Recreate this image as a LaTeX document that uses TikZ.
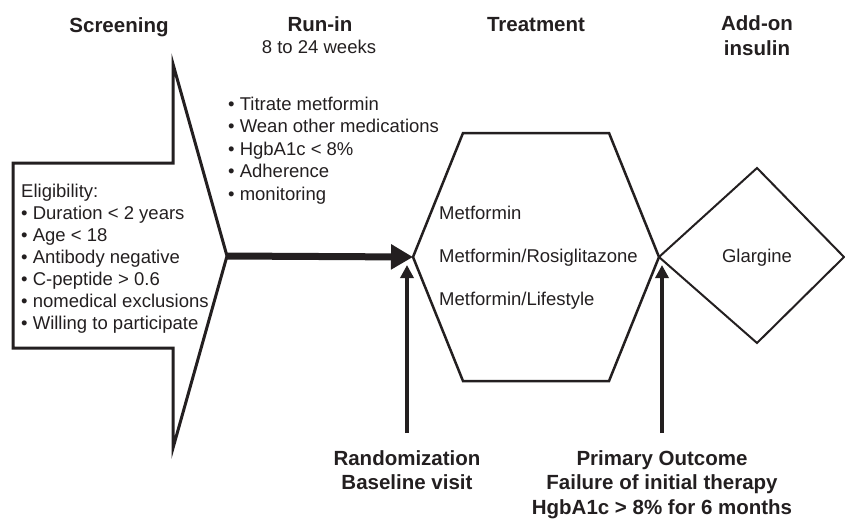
\documentclass[tikz,border=0pt]{standalone}
\usepackage{fontspec}
\setmainfont{Liberation Sans}
\usetikzlibrary{positioning, arrows.meta}
\definecolor{ink}{HTML}{231F20}

\tikzset{
  head/.style={font=\fontsize{20.5}{24.5}\selectfont\bfseries, align=center, text=ink, inner sep=0pt},
  body/.style={font=\fontsize{18.5}{22}\selectfont, text=ink, inner sep=0pt},
  item/.style={body, anchor=base west},
  outline/.style={draw=ink, line width=2.5pt, line join=miter},
  mainarrow/.style={draw=ink, line width=7pt, -{Triangle[length=22pt,width=24pt]}},
  riser/.style={draw=ink, line width=3.5pt, -{Triangle[length=13pt,width=13pt]}},
}

\begin{document}
\begin{tikzpicture}[x=1pt,y=-1pt]
    \useasboundingbox (0,0) rectangle (845,520);

    % phase headings
    \node[head, anchor=base] (screening) at (119,32) {Screening};
    \node[head, anchor=base] (runin) at (320,31.5) {Run-in};
    \node[body, anchor=base] (weeks) at (319,53) {8 to 24 weeks};
    \node[head, anchor=base] (treatment) at (536,31.5) {Treatment};
    \node[head, anchor=north] (addon) at (757,15.5) {Add-on\\insulin};

    % shapes
    \draw[outline, line width=3pt] (13,163) -- (173,163) -- (173,64) -- (227,256) coordinate (scrtip)
        -- (173,448) -- (173,348) -- (13,348) -- cycle;
    \draw[outline] (413,257) coordinate (hexL) -- (463,133) -- (609,133) -- (659,257) coordinate (hexR)
        -- (609,381) -- (463,381) -- cycle;
    \draw[outline, line width=2pt] (hexR) -- (757,168) -- (844,257) -- (757,343) -- cycle;

    % screening list
    \node[item] (elig1) at (21,197) {Eligibility:};
    \node[item] (elig2) at ([yshift=-22pt]elig1.base west) {\textbullet{} Duration < 2 years};
    \node[item] (elig3) at ([yshift=-22pt]elig2.base west) {\textbullet{} Age < 18};
    \node[item] (elig4) at ([yshift=-22pt]elig3.base west) {\textbullet{} Antibody negative};
    \node[item] (elig5) at ([yshift=-22pt]elig4.base west) {\textbullet{} C-peptide > 0.6};
    \node[item] (elig6) at ([yshift=-22pt]elig5.base west) {\textbullet{} nomedical exclusions};
    \node[item] (elig7) at ([yshift=-22pt]elig6.base west) {\textbullet{} Willing to participate};

    % run-in list
    \node[item] (run1) at (228,110) {\textbullet{} Titrate metformin};
    \node[item] (run2) at ([yshift=-22.5pt]run1.base west) {\textbullet{} Wean other medications};
    \node[item] (run3) at ([yshift=-22.5pt]run2.base west) {\textbullet{} HgbA1c < 8\%};
    \node[item] (run4) at ([yshift=-22.5pt]run3.base west) {\textbullet{} Adherence};
    \node[item] (run5) at ([yshift=-22.5pt]run4.base west) {\textbullet{} monitoring};

    % treatment arms
    \node[item] (met) at (439,219) {Metformin};
    \node[item] (rosi) at (439,262) {Metformin/Rosiglitazone};
    \node[item] (life) at (439,305) {Metformin/Lifestyle};
    \node[body, anchor=base] (glargine) at (757,262) {Glargine};

    % milestones
    \node[head, anchor=north] (rand) at (407,450) {Randomization\\Baseline visit};
    \node[head, anchor=north] (outcome) at (662,450) {Primary Outcome\\Failure of initial therapy\\HgbA1c > 8\% for 6 months};
    \coordinate (randtip) at (407,265);
    \coordinate (failtip) at (662,265);

    \draw[mainarrow] (scrtip) -- (hexL);
    \draw[riser] ([yshift=17pt]rand.north) -- (randtip);
    \draw[riser] ([yshift=17pt]outcome.north) -- (failtip);

\end{tikzpicture}
\end{document}
